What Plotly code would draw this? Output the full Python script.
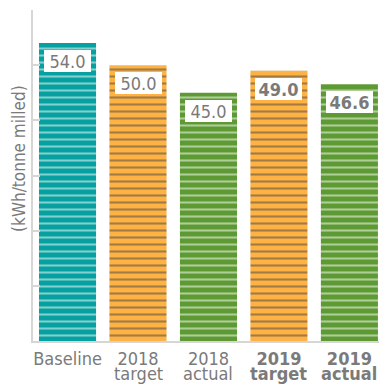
import plotly.graph_objects as go

# Energy intensity per tonne milled
categories = ["Baseline", "2018 target", "2018 actual", "2019 target", "2019 actual"]
values = [54.0, 50.0, 45.0, 49.0, 46.6]
line1 = ["Baseline", "2018", "2018", "<b>2019</b>", "<b>2019</b>"]
line2 = ["", "target", "actual", "<b>target</b>", "<b>actual</b>"]
bold = [False, False, False, True, True]
colors = ["#05A09F", "#FDB243", "#5E9A33", "#FDB243", "#5E9A33"]

FONT = "DejaVu Sans Condensed, DejaVu Sans, sans-serif"
GREY = "#7a7a7a"
AXIS = "#d6d6d6"

fig = go.Figure(
    go.Bar(
        x=categories,
        y=values,
        width=0.81,
        marker=dict(
            color=colors,
            line=dict(width=0),
            pattern=dict(shape="-", fgcolor="white", size=7, solidity=0.3),
        ),
        hoverinfo="skip",
    )
)

annotations = []
for cat, v, b in zip(categories, values, bold):
    txt = f"{v:.1f}"
    if b:
        txt = f"<b>{txt}</b>"
    annotations.append(dict(
        x=cat, y=v, xref="x", yref="y", text=txt, showarrow=False,
        yanchor="top", yshift=-7, bgcolor="white", borderwidth=0, borderpad=1,
        width=45, height=20, font=dict(family=FONT, size=18, color=GREY),
    ))

# second line of the category labels, set tighter than Plotly's <br> spacing
for cat, t in zip(categories, line2):
    if t:
        annotations.append(dict(
            x=cat, y=0, xref="x", yref="paper", text=t, showarrow=False,
            yanchor="middle", yshift=-32, font=dict(family=FONT, size=18, color=GREY),
        ))

annotations.append(dict(
    x=-14 / 346, y=0.55, xref="paper", yref="paper", text="(kWh/tonne milled)",
    showarrow=False, textangle=-90, xanchor="center", yanchor="middle",
    font=dict(family=FONT, size=17, color=GREY),
))

fig.update_layout(
    width=379, height=385,
    margin=dict(l=33, r=0, t=10, b=44),
    paper_bgcolor="white", plot_bgcolor="white",
    showlegend=False,
    font=dict(family=FONT, size=18, color=GREY),
    xaxis=dict(
        range=[-0.49, 4.42], showline=True, linecolor=AXIS, linewidth=2,
        ticks="", tickmode="array", tickvals=categories, ticktext=line1,
        tickfont=dict(family=FONT, size=18, color=GREY), showgrid=False,
        zeroline=False, fixedrange=True,
    ),
    yaxis=dict(
        range=[0, 60], dtick=10, showline=True, linecolor=AXIS, linewidth=2,
        ticks="inside", ticklen=7, tickcolor=AXIS, tickwidth=1.5,
        showticklabels=False, showgrid=False, zeroline=False, fixedrange=True,
    ),
    annotations=annotations,
)

fig.write_html("out.html")
